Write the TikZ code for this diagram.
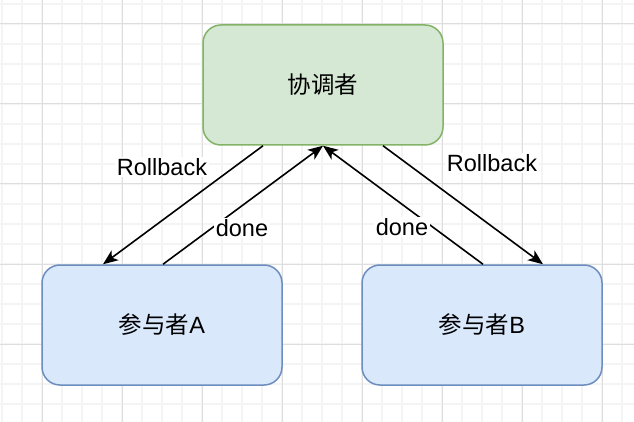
\documentclass[tikz,border=0pt]{standalone}
\usepackage{fontspec}
\setmainfont{Liberation Sans}
\newfontfamily\cjk{Noto Sans CJK SC}
\usetikzlibrary{arrows.meta}
\definecolor{gfill}{HTML}{D5E8D4}
\definecolor{gline}{HTML}{82B366}
\definecolor{bfill}{HTML}{DAE8FC}
\definecolor{bline}{HTML}{6C8EBF}
\definecolor{gridminor}{HTML}{F4F4F4}
\definecolor{gridmajor}{HTML}{DEDEDE}
\tikzset{
  box/.style={draw, rounded corners=18pt, line width=1.5pt, minimum width=240pt, minimum height=120pt, inner sep=0pt, font=\fontsize{23.5}{28}\selectfont},
  coordbox/.style={box, fill=gfill, draw=gline},
  partbox/.style={box, fill=bfill, draw=bline},
  conn/.style={line width=1.6pt, -{Stealth[length=15pt, width=12pt, inset=4pt]}},
  lbl/.style={fill=white, inner sep=1.5pt, font=\fontsize{23.5}{28}\selectfont}
}
\begin{document}
\begin{tikzpicture}[x=1pt, y=-1pt]
\useasboundingbox (0,0) rectangle (634,422);
\fill[white] (0,0) rectangle (634,422);
% grid
\foreach \gx in {2,22,...,622} \draw[gridminor, line width=1.2pt] (\gx,0) -- (\gx,422);
\foreach \gy in {4,24,...,404} \draw[gridminor, line width=1.2pt] (0,\gy) -- (634,\gy);
\foreach \gx in {42,122,...,602} \draw[gridmajor, line width=1pt] (\gx,0) -- (\gx,422);
\foreach \gy in {24,104,...,344} \draw[gridmajor, line width=1pt] (0,\gy) -- (634,\gy);
% nodes
\node[coordbox] (co) at (323,85) {{\cjk 协调者}};
\node[partbox] (pa) at (162,325) {{\cjk 参与者}A};
\node[partbox] (pb) at (482,325) {{\cjk 参与者}B};
% connectors
\draw[conn] ([xshift=-60pt]co.south) -- ([xshift=-59pt]pa.north);
\draw[conn] ([xshift=1pt]pa.north) -- (co.south);
\draw[conn] ([xshift=1pt]pb.north) -- (co.south);
\draw[conn] ([xshift=60pt]co.south) -- ([xshift=61pt]pb.north);
% labels
\node[lbl] (l1) at (162,167) {Rollback};
\node[lbl] (l2) at (242,228) {done};
\node[lbl] (l3) at (402,227) {done};
\node[lbl] (l4) at (492,163) {Rollback};
\end{tikzpicture}
\end{document}
